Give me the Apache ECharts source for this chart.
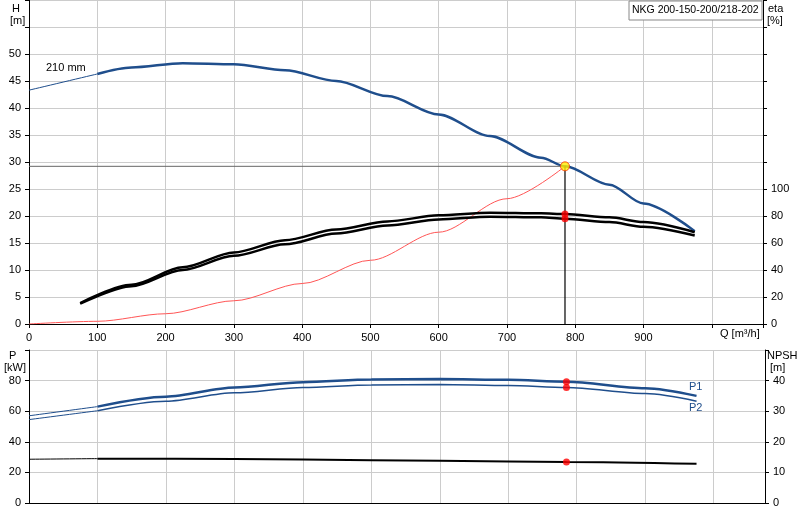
<!DOCTYPE html>
<html><head><meta charset="utf-8"><script src="https://cdn.jsdelivr.net/npm/echarts@6/dist/echarts.min.js"></script>
<style>html,body{margin:0;background:#fff}#c{width:800px;height:520px}</style></head>
<body><div id="c"></div><script>
const title = 'NKG 200-150-200/218-202';
const dutyQ = 785, dutyH = 29.2;
const hQ = [0,100,150,225,300,375,450,525,600,675,750,785,850,900,975];
const hV = [43.3,46.3,47.5,48.3,48.1,47,45,42.2,38.8,34.8,30.8,29.2,25.8,22.3,17.2];
const etaQ = [75,150,225,300,375,450,525,600,675,750,785,850,900,975];
const eta1 = [15.5,29,42,53,62,70,76,80.5,82.5,82,81.5,79,75.5,68];
const eta2 = [15,28,40,50.5,59,67,73,77.5,79.5,79,78,75.5,72,65.5];
const sysQ = [0,100,200,300,400,500,600,700,785];
const sysH = [0,0.5,1.9,4.3,7.5,11.8,17,23.2,29.2];
const pQ = [0,100,200,300,400,500,600,700,785,900,975];
const p1 = [57,63,69.5,75.5,79,80.7,81,80.5,79.3,75,70];
const p2 = [54.5,60.3,66.5,72,75.5,77.2,77.5,76.8,75.5,71.5,66.5];
const nQ = [0,100,300,500,700,785,975];
const npsh = [14.3,14.5,14.4,14,13.6,13.4,12.8];
const dutyEta = [81.5,78], dutyP = [79.3,75.5], dutyNpsh = 13.4;

const z = (xs, ys) => xs.map((x,i)=>[x, ys[i]]);
const thin = (xs, ys) => z(xs,ys).filter(d=>d[0]<=100);
const thick = (xs, ys) => z(xs,ys).filter(d=>d[0]>=100);
const blue = '#1f4e8c';
const lab = {color:'#000',fontSize:11,fontFamily:'Arial, Liberation Sans'};
const gridLine = {show:true,lineStyle:{color:'#cccccc',width:1}};
const axLine = {show:true,lineStyle:{color:'#000',width:1}};
function xAx(i, showLab){return {type:'value',gridIndex:i,min:0,max:1075,interval:100,
  axisLine:axLine,axisTick:{show:showLab,length:4,lineStyle:{color:'#000'}},splitLine:gridLine,
  axisLabel:{show:showLab,...lab,formatter:v=>v<=900?v:''}};}
function yAx(i,max,int,lmax,pos,split){return {type:'value',gridIndex:i,min:0,max:max,interval:int,position:pos,
  axisLine:axLine,axisTick:{show:true,length:4,lineStyle:{color:'#000'}},splitLine:split?gridLine:{show:false},
  axisLabel:{...lab,formatter:v=>v<=lmax?v:''}};}
function line(data,xi,yi,color,w,extra){return Object.assign({type:'line',xAxisIndex:xi,yAxisIndex:yi,data:data,smooth:0.3,smoothMonotone:'x',
  symbol:'none',lineStyle:{color:color,width:w},silent:true,z:3},extra||{});}
function dots(data,xi,yi){return {type:'scatter',xAxisIndex:xi,yAxisIndex:yi,data:data,symbolSize:7,itemStyle:{color:'#ff0000'},z:6};}

const opt = {
  animation:false,
  grid:[{left:29,right:37,top:0,height:324},{left:29,right:35,top:350,height:153}],
  xAxis:[xAx(0,true),xAx(1,false)],
  yAxis:[yAx(0,60,5,50,'left',true),yAx(0,240,20,100,'right',false),
         yAx(1,100,20,80,'left',true),yAx(1,50,10,40,'right',false)],
  series:[
    line(thin(hQ,hV),0,0,blue,1),
    line(thick(hQ,hV),0,0,blue,2.5),
    line(z(sysQ,sysH),0,0,'#ff5555',1),
    line([[0,dutyH],[dutyQ,dutyH]],0,0,'#666',1,{smooth:false}),
    line([[dutyQ,0],[dutyQ,dutyH]],0,0,'#000',1.2,{smooth:false}),
    line(z(etaQ,eta1),0,1,'#000',2.5),
    line(z(etaQ,eta2),0,1,'#000',2.5),
    dots(dutyEta.map(v=>[dutyQ,v]),0,1),
    {type:'scatter',xAxisIndex:0,yAxisIndex:0,data:[[dutyQ,dutyH]],symbolSize:9,itemStyle:{color:'#ffee00',borderColor:'#ff3300',borderWidth:1},z:7},
    line(thin(pQ,p1),1,2,blue,1),
    line(thick(pQ,p1),1,2,blue,2.5),
    line(thin(pQ,p2),1,2,blue,1),
    line(thick(pQ,p2),1,2,blue,1.5),
    line(thin(nQ,npsh),1,3,'#000',1),
    line(thick(nQ,npsh),1,3,'#000',2),
    dots(dutyP.map(v=>[dutyQ,v]),1,2),
    dots([[dutyQ,dutyNpsh]],1,3)
  ],
  graphic:[
    {type:'line',shape:{x1:29,y1:0.5,x2:763,y2:0.5},style:{stroke:'#999',lineWidth:1}},
    {type:'line',shape:{x1:29,y1:350.5,x2:765,y2:350.5},style:{stroke:'#999',lineWidth:1}},
    {type:'rect',shape:{x:629,y:1,width:133,height:19},style:{fill:'#fff',stroke:'#888',lineWidth:1},z:10},
    {type:'text',left:632,top:5,style:{text:title,fontSize:10.5,fontFamily:'Arial, Liberation Sans',fill:'#000'},z:11},
    {type:'text',left:12,top:3,style:{text:'H',...lab,fill:'#000'}},
    {type:'text',left:10,top:15,style:{text:'[m]',...lab,fill:'#000'}},
    {type:'text',left:768,top:3,style:{text:'eta',...lab,fill:'#000'}},
    {type:'text',left:767,top:15,style:{text:'[%]',...lab,fill:'#000'}},
    {type:'text',left:46,top:62,style:{text:'210 mm',...lab,fill:'#000'}},
    {type:'text',left:720,top:328,style:{text:'Q [m³/h]',...lab,fill:'#000'}},
    {type:'text',left:9,top:350,style:{text:'P',...lab,fill:'#000'}},
    {type:'text',left:4,top:362,style:{text:'[kW]',...lab,fill:'#000'}},
    {type:'text',left:767,top:350,style:{text:'NPSH',...lab,fill:'#000'}},
    {type:'text',left:770,top:362,style:{text:'[m]',...lab,fill:'#000'}},
    {type:'text',left:689,top:381,style:{text:'P1',...lab,fill:blue}},
    {type:'text',left:689,top:402,style:{text:'P2',...lab,fill:blue}}
  ]
};
echarts.init(document.getElementById('c')).setOption(opt);
</script></body></html>
